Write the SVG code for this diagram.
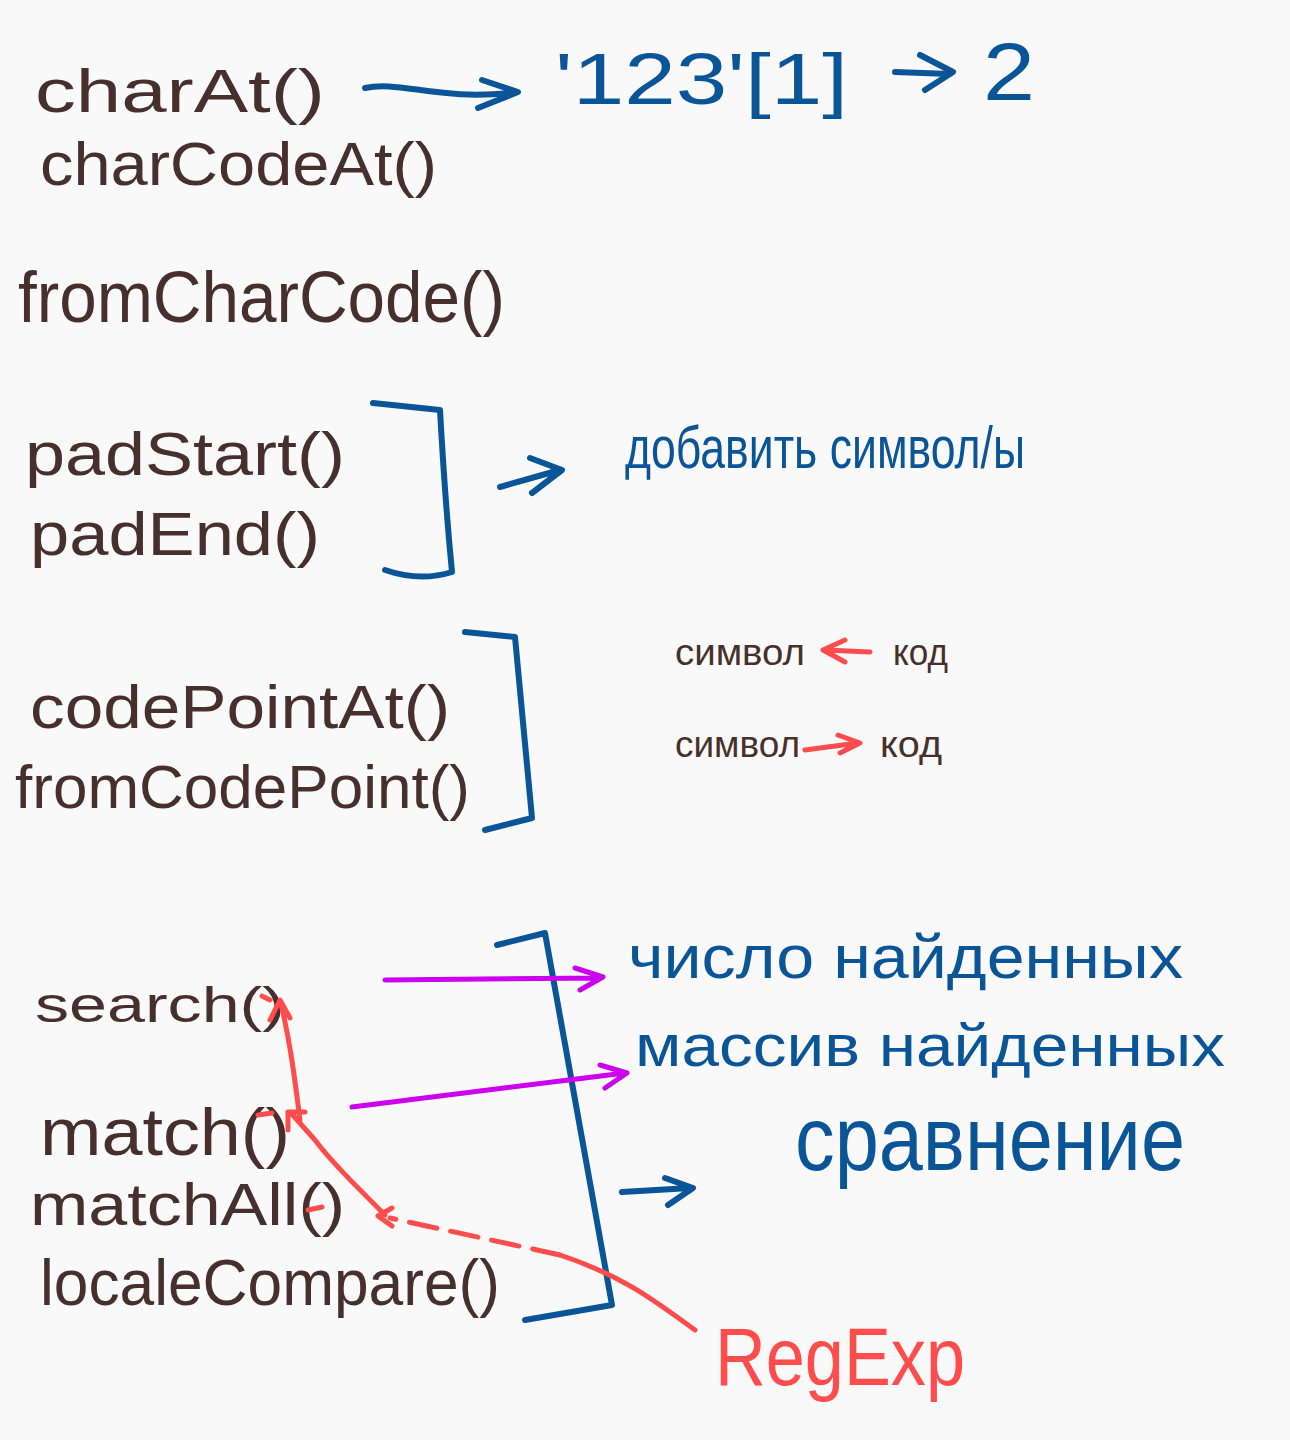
<svg xmlns="http://www.w3.org/2000/svg" width="1290" height="1440" viewBox="0 0 1290 1440">
<style>
text{font-family:"Liberation Sans","DejaVu Sans",sans-serif}
.br{fill:#47302b}
.bl{fill:#0a5598}
.rd{fill:#ff4d4d}
.ln{fill:none;stroke-linecap:round;stroke-linejoin:round}
.lb{stroke:#0a5598;stroke-width:6}
.lr{stroke:#ff4d4d;stroke-width:5}
.lm{stroke:#cc00ee;stroke-width:5}
</style>
<rect width="1290" height="1440" fill="#f9f9f9"/>
<g id="charAt"><text class="br" x="35" y="112" font-size="62" textLength="290" lengthAdjust="spacingAndGlyphs">charAt()</text></g>
<g id="charCodeAt"><text class="br" x="40" y="185" font-size="62" textLength="397" lengthAdjust="spacingAndGlyphs">charCodeAt()</text></g>
<g id="example"><text class="bl" x="555" y="104" font-size="72" textLength="293" lengthAdjust="spacingAndGlyphs">'123'[1]</text></g>
<g id="result2"><text class="bl" x="983" y="100" font-size="82" textLength="52" lengthAdjust="spacingAndGlyphs">2</text></g>
<g id="fromCharCode"><text class="br" x="18" y="322" font-size="72" textLength="487" lengthAdjust="spacingAndGlyphs">fromCharCode()</text></g>
<g id="padStart"><text class="br" x="25" y="475" font-size="62" textLength="320" lengthAdjust="spacingAndGlyphs">padStart()</text></g>
<g id="padEnd"><text class="br" x="30" y="555" font-size="62" textLength="290" lengthAdjust="spacingAndGlyphs">padEnd()</text></g>
<g id="addSymbol"><text class="bl" x="625" y="468" font-size="60" textLength="400" lengthAdjust="spacingAndGlyphs">добавить символ/ы</text></g>
<g id="codePointAt"><text class="br" x="30" y="728" font-size="62" textLength="420" lengthAdjust="spacingAndGlyphs">codePointAt()</text></g>
<g id="fromCodePoint"><text class="br" x="15" y="808" font-size="62" textLength="455" lengthAdjust="spacingAndGlyphs">fromCodePoint()</text></g>
<g id="sym1"><text class="br" x="675" y="665" font-size="36" textLength="130" lengthAdjust="spacingAndGlyphs">символ</text></g>
<g id="code1"><text class="br" x="893" y="665" font-size="36" textLength="55" lengthAdjust="spacingAndGlyphs">код</text></g>
<g id="sym2"><text class="br" x="675" y="757" font-size="36" textLength="125" lengthAdjust="spacingAndGlyphs">символ</text></g>
<g id="code2"><text class="br" x="880" y="757" font-size="36" textLength="62" lengthAdjust="spacingAndGlyphs">код</text></g>
<g id="search"><text class="br" x="35" y="1022" font-size="50" textLength="250" lengthAdjust="spacingAndGlyphs">search()</text></g>
<g id="match"><text class="br" x="40" y="1155" font-size="66" textLength="250" lengthAdjust="spacingAndGlyphs">match()</text></g>
<g id="matchAll"><text class="br" x="30" y="1225" font-size="60" textLength="315" lengthAdjust="spacingAndGlyphs">matchAll()</text></g>
<g id="localeCompare"><text class="br" x="40" y="1305" font-size="64" textLength="460" lengthAdjust="spacingAndGlyphs">localeCompare()</text></g>
<g id="count"><text class="bl" x="628" y="978" font-size="62" textLength="555" lengthAdjust="spacingAndGlyphs">число найденных</text></g>
<g id="array"><text class="bl" x="635" y="1066" font-size="60" textLength="590" lengthAdjust="spacingAndGlyphs">массив найденных</text></g>
<g id="compare"><text class="bl" x="795" y="1170" font-size="90" textLength="390" lengthAdjust="spacingAndGlyphs">сравнение</text></g>
<g id="regexp"><text class="rd" x="715" y="1385" font-size="82" textLength="250" lengthAdjust="spacingAndGlyphs">RegExp</text></g>
<g id="connectors" class="ln">
<path class="lb" d="M365,88 C400,80 440,102 518,92 M482,80 L518,92 L478,108"/>
<path class="lb" d="M895,72 L950,74 M920,55 L953,72 L925,90"/>
<path class="lb" d="M373,403 L440,410 Q445,500 452,572 Q420,582 385,570"/>
<path class="lb" d="M500,487 L560,470 M530,458 L562,470 L532,493"/>
<path class="lb" d="M465,632 L515,637 L532,818 L485,830"/>
<path class="lr" d="M870,652 L825,650 M845,640 L823,650 L845,662"/>
<path class="lr" d="M805,750 L858,743 M838,735 L860,743 L840,753"/>
<path class="lb" d="M497,945 L545,933 L612,1305 L525,1320"/>
<path class="lm" d="M385,980 L600,978 M575,968 L603,977 L580,990"/>
<path class="lm" d="M352,1107 L625,1073 M600,1065 L627,1073 L605,1088"/>
<path class="lb" d="M622,1192 L690,1188 M665,1178 L693,1188 L668,1205"/>
<path class="lr" d="M695,1330 C650,1297 620,1275 560,1255"/>
<path class="lr" d="M560,1255 L390,1218" stroke-dasharray="28,14"/>
<path class="lr" d="M392,1208 L378,1216 L392,1226"/>
<path class="lr" d="M385,1215 C350,1180 330,1160 315,1140 L290,1112 M288,1130 L288,1112 L305,1112"/>
<path class="lr" d="M300,1120 C295,1080 290,1040 280,1000 M270,1020 L280,1000 L290,1018"/>
<path class="lr" d="M258,1115 L272,1113 M308,1210 L322,1207 M262,996 L270,1000"/>
</g>
</svg>
